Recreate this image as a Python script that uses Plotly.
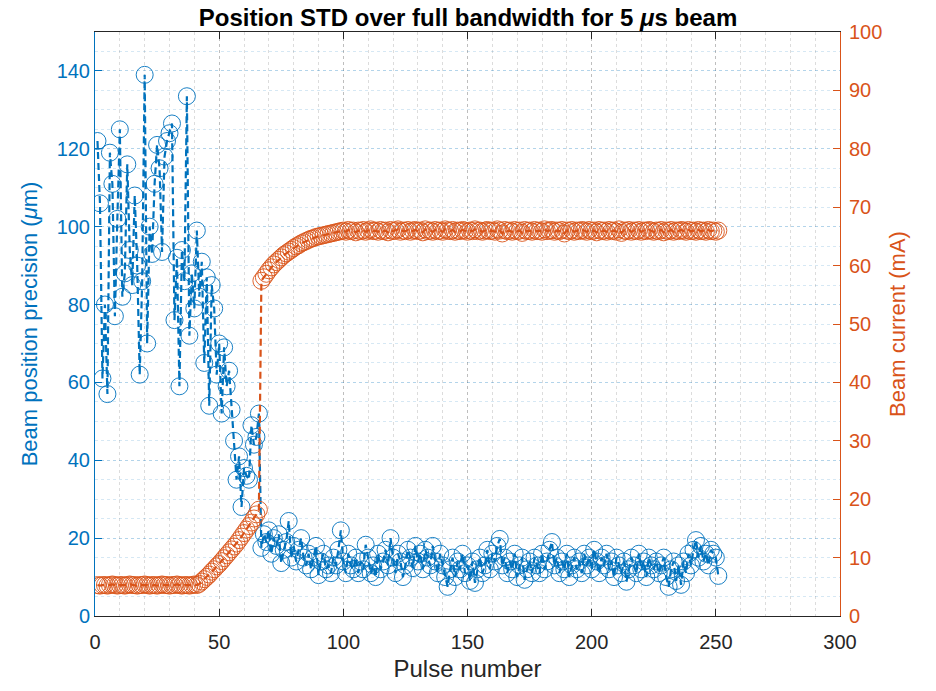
import plotly.graph_objects as go

BLUE = "#0072BD"
ORANGE = "#D95319"
DARK = "#262626"

# ---- data ----
pulse = list(range(1, 252))

precision_start = [
    122, 106, 61, 80, 57, 119, 111, 77, 102, 125,
    82, 88, 116, 94, 85, 108, 90, 62, 86, 139,
    70, 100, 93, 111, 121, 115, 93.5, 118, 122, 124,
    126.5, 76, 92, 59, 94, 86, 133.5, 72, 88, 79,
    99, 82, 91, 65, 87, 54, 85, 79, 62, 70,
    52, 69, 59, 63, 53, 45, 35, 41, 28, 38,
    36, 35, 49, 44, 46, 52,
]
precision_rest = [
    17.5, 21, 19, 22, 16, 20, 18, 21, 13.6, 17,
    19, 24.4, 15, 18, 14, 17, 20, 15, 13, 16,
    12, 15, 18, 10.5, 14, 16, 12, 13, 11, 15,
    13, 17, 22, 14, 11, 16, 13, 12, 15, 11,
    14, 12, 18.3, 15, 11, 13, 10, 16, 12, 14,
    17, 13, 20, 15, 11, 16, 14, 10, 13, 17,
    15, 12.3, 18, 14, 16, 12, 17, 15, 13, 18,
    14, 11, 16, 13, 10, 7.5, 12, 15, 10, 14,
    12, 16, 11, 13, 9, 14, 8.5, 12, 15, 11,
    13, 17, 12, 16, 14, 18, 19.8, 13, 15, 11,
    14, 12, 16, 10, 13, 15, 9.3, 12, 14, 11,
    15, 13, 11, 16, 12, 14, 17, 19, 13, 15,
    11, 14, 12, 16, 10, 13, 15, 12, 14, 11,
    16, 13, 15, 12, 17, 14, 11, 15, 13, 16,
    12, 14, 10, 15, 13, 11, 14, 8.8, 12, 15,
    13, 11, 16, 12, 14, 10, 15, 13, 12, 14,
    11, 13, 15, 10, 7.5, 12, 14, 9, 13, 8,
    14, 11, 16, 13, 17, 19.5, 15, 18, 14, 16,
    13, 17, 16, 15, 10.3,
]
precision = precision_start + precision_rest

current_low = [
    5.3, 5.2, 5.3, 5.3, 5.2, 5.3, 5.4, 5.3, 5.2, 5.3,
    5.3, 5.2, 5.3, 5.4, 5.3, 5.3, 5.2, 5.3, 5.3, 5.4,
    5.3, 5.2, 5.3, 5.3, 5.2, 5.3, 5.4, 5.3, 5.3, 5.2,
    5.3, 5.3, 5.4, 5.3, 5.2, 5.3, 5.3, 5.2, 5.3, 5.4,
    5.3,
]
current_ramp = [
    5.5, 5.9, 6.3, 6.7, 7.1, 7.6, 8.0, 8.5, 8.9, 9.4,
    9.9, 10.4, 10.9, 11.4, 11.9, 12.4, 13.0, 13.6, 14.2, 14.8,
    15.4, 16.0, 16.7, 17.4, 18.2,
]
current_rise = [
    57.4, 58.0, 58.6, 59.2, 59.7, 60.2, 60.6, 61.0, 61.4, 61.8,
    62.1, 62.4, 62.7, 63.0, 63.3, 63.5, 63.8, 64.0, 64.2, 64.4,
    64.6, 64.7, 64.9, 65.0, 65.1, 65.2, 65.3, 65.4, 65.5, 65.6,
]
current_flat = [
    65.7, 65.8, 65.9, 66.0, 65.8, 66.1, 65.9, 66.0, 65.7, 66.0,
    65.9, 66.1, 65.8, 66.0, 66.2, 65.9, 66.0, 65.8, 66.1, 65.9,
    66.0, 65.7, 66.1, 65.9, 66.0, 66.2, 65.8, 66.0, 65.9, 66.1,
    65.8, 66.0, 66.1, 65.9, 66.0, 65.7, 66.2, 65.9, 66.0, 65.8,
    66.1, 65.9, 66.0, 65.8, 66.2, 66.0, 65.9, 66.1, 65.8, 66.0,
    65.9, 66.1, 66.0, 65.8, 66.0, 65.9, 66.2, 65.9, 66.0, 65.8,
    66.0, 66.1, 65.9, 66.0, 65.8, 66.2, 66.0, 65.5, 66.1, 65.9,
    66.0, 65.8, 66.1, 65.9, 66.0, 65.6, 66.1, 65.9, 66.0, 65.8,
    66.1, 65.9, 66.0, 65.8, 66.2, 65.9, 66.0, 66.1, 65.8, 66.0,
    65.9, 66.1, 65.5, 66.0, 65.9, 66.1, 65.8, 66.0, 65.9, 66.1,
    66.0, 65.8, 66.1, 65.9, 66.0, 65.7, 66.1, 65.9, 66.0, 65.8,
    66.1, 65.9, 66.0, 65.8, 66.2, 65.6, 66.0, 65.9, 66.1, 65.8,
    66.0, 65.9, 66.1, 65.8, 66.0, 65.9, 66.1, 66.0, 65.8, 66.0,
    65.9, 66.1, 65.7, 66.0, 65.9, 66.1, 65.8, 66.0, 65.9, 66.1,
    66.0, 65.8, 66.1, 65.9, 66.0, 65.8, 66.1, 65.9, 66.0, 65.8,
    66.1, 65.9, 66.0, 65.8, 66.0,
]
current = current_low + current_ramp + current_rise + current_flat

x_ticks = [0, 50, 100, 150, 200, 250, 300]
left_ticks = [0, 20, 40, 60, 80, 100, 120, 140]
right_ticks = [0, 10, 20, 30, 40, 50, 60, 70, 80, 90, 100]

FONT = "Liberation Sans, Arial, Helvetica, sans-serif"
GRID_X = "rgba(38,38,38,0.16)"
GRID_Y = "rgba(0,114,189,0.16)"

fig = go.Figure()
fig.add_trace(go.Scatter(
    x=pulse, y=precision, mode="lines+markers",
    line=dict(color=BLUE, width=2.2, dash="7px,4px"),
    marker=dict(symbol="circle-open", size=17, color=BLUE,
                line=dict(width=0.9, color=BLUE)),
    yaxis="y", showlegend=False,
))
fig.add_trace(go.Scatter(
    x=pulse, y=current, mode="lines+markers",
    line=dict(color=ORANGE, width=2.2, dash="7px,4px"),
    marker=dict(symbol="circle-open", size=17, color=ORANGE,
                line=dict(width=0.9, color=ORANGE)),
    yaxis="y2", showlegend=False,
))

fig.update_layout(
    width=936, height=691,
    margin=dict(l=95, r=96, t=32, b=75),
    paper_bgcolor="white", plot_bgcolor="white",
    font=dict(family=FONT, size=20, color=DARK),
    title=dict(text="<b>Position STD over full bandwidth for 5 <i>μ</i>s beam</b>",
               x=0.5, xanchor="center", y=0.975, yanchor="middle",
               font=dict(family=FONT, size=24, color="black")),
    xaxis=dict(
        range=[0, 300], tickvals=x_ticks, ticktext=[str(v) for v in x_ticks],
        ticks="inside", ticklen=7, tickcolor=DARK, tickwidth=1,
        ticklabelstandoff=8,
        showline=True, linecolor=DARK, linewidth=1, mirror="ticks",
        showgrid=True, gridcolor=GRID_X, griddash="dot", gridwidth=1,
        minor=dict(dtick=10, tick0=0, showgrid=True, gridcolor=GRID_X,
                   griddash="dot", gridwidth=1),
        zeroline=False,
        tickfont=dict(size=20, color=DARK),
        title=dict(text="Pulse number", font=dict(size=24, color=DARK), standoff=8),
    ),
    yaxis=dict(
        range=[0, 150], tickvals=left_ticks, ticktext=[str(v) for v in left_ticks],
        ticks="inside", ticklen=7, tickcolor=BLUE, tickwidth=1,
        showline=True, linecolor=BLUE, linewidth=1,
        showgrid=True, gridcolor=GRID_Y, griddash="dot", gridwidth=1,
        minor=dict(dtick=5, tick0=0, showgrid=True, gridcolor=GRID_Y,
                   griddash="dot", gridwidth=1),
        zeroline=False,
        tickfont=dict(size=20, color=BLUE),
        title=dict(text="Beam position precision (<i>μ</i>m)",
                   font=dict(size=22, color=BLUE), standoff=12),
    ),
    yaxis2=dict(
        range=[0, 100], tickvals=right_ticks, ticktext=[str(v) for v in right_ticks],
        overlaying="y", side="right",
        ticks="inside", ticklen=7, tickcolor=ORANGE, tickwidth=1,
        ticklabelstandoff=4,
        showline=True, linecolor=ORANGE, linewidth=1,
        showgrid=False, zeroline=False,
        tickfont=dict(size=20, color=ORANGE),
        title=dict(text="Beam current (mA)", font=dict(size=22, color=ORANGE), standoff=8),
    ),
)

fig.write_html("out.html")
